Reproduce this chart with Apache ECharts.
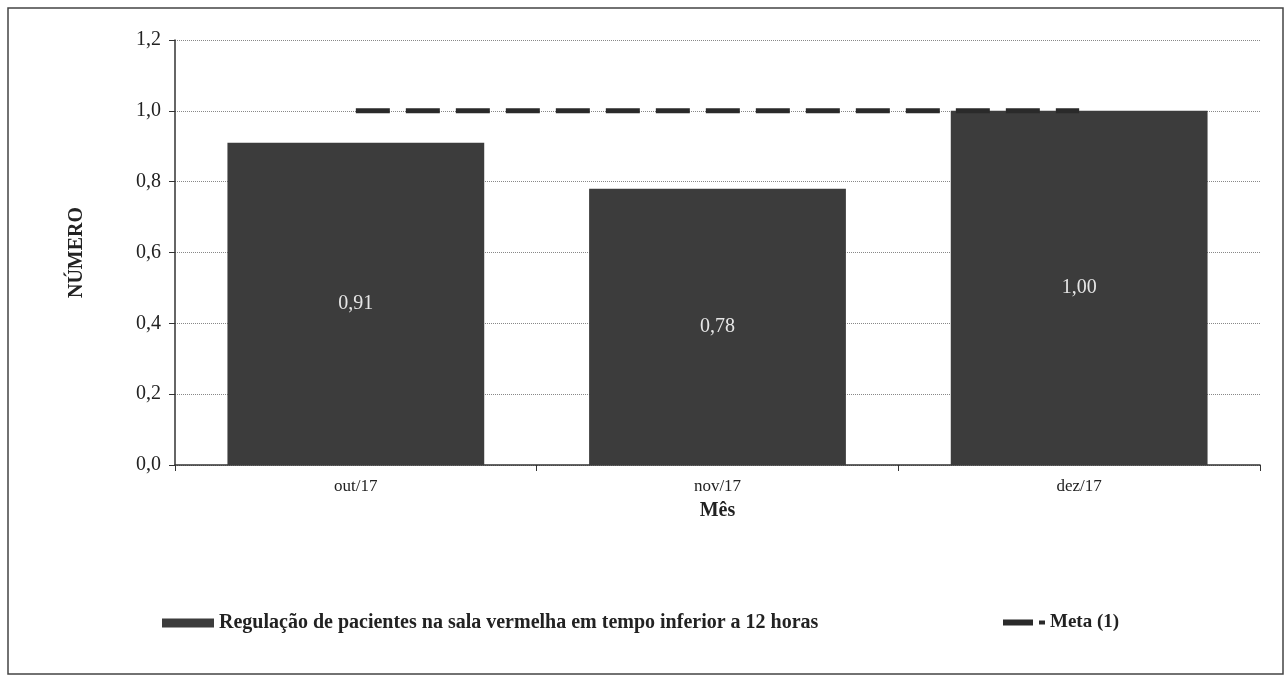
<!DOCTYPE html>
<html>
<head>
<meta charset="utf-8">
<script src="https://cdn.jsdelivr.net/npm/echarts@6/dist/echarts.min.js"></script>
<style>
html,body{margin:0;padding:0;background:#fff;}
#chart{width:1286px;height:681px;}
</style>
</head>
<body>
<div id="chart"></div>
<script>
const categories = ['out/17', 'nov/17', 'dez/17'];
const regulacao = [0.91, 0.78, 1.00];
const meta = [1, 1, 1];
const yTicks = [0, 0.2, 0.4, 0.6, 0.8, 1.0, 1.2];

const fmt = v => v.toFixed(2).replace('.', ',');
const chart = echarts.init(document.getElementById('chart'));
const serif = '"Liberation Serif", "DejaVu Serif", serif';
const legendText = { fontFamily: serif, fontSize: 20, fontWeight: 'bold', color: '#222' };
const barName = 'Regulação de pacientes na sala vermelha em tempo inferior a 12 horas';

chart.setOption({
  backgroundColor: '#fff',
  animation: false,
  textStyle: { fontFamily: serif },
  graphic: [{
    type: 'rect', shape: { x: 8, y: 8, width: 1275, height: 666 },
    style: { fill: 'none', stroke: '#444', lineWidth: 1.5 }
  }],
  grid: { left: 175, right: 26, top: 40, bottom: 216, containLabel: false },
  legend: [
    {
      top: 608, left: 157, itemWidth: 52, itemHeight: 9, itemGap: 10,
      textStyle: legendText,
      data: [{ name: barName, icon: 'rect' }]
    },
    {
      top: 608, left: 998, itemWidth: 42, itemHeight: 6, itemGap: 6,
      textStyle: { fontFamily: serif, fontSize: 19, fontWeight: 'bold', color: '#222' },
      data: [{ name: 'Meta (1)', icon: 'path://M0,0H30V6H0Z M36,1H42V5H36Z',
               itemStyle: { color: '#2a2a2a' } }]
    }
  ],
  xAxis: {
    type: 'category', data: categories,
    name: 'Mês', nameLocation: 'middle', nameGap: 36,
    nameTextStyle: { fontFamily: serif, fontSize: 20, fontWeight: 'bold', color: '#222' },
    axisLine: { lineStyle: { color: '#333', width: 1.5 } },
    axisTick: { show: true, length: 6, lineStyle: { color: '#333' } },
    axisLabel: { fontFamily: serif, fontSize: 17, color: '#222', margin: 13 }
  },
  yAxis: {
    type: 'value', min: 0, max: 1.2, interval: 0.2,
    name: 'NÚMERO', nameLocation: 'middle', nameGap: 88, nameRotate: 90,
    nameTextStyle: { fontFamily: serif, fontSize: 20, fontWeight: 'bold', color: '#222' },
    axisLine: { show: true, lineStyle: { color: '#333', width: 1.5 } },
    axisTick: { show: true, length: 6, lineStyle: { color: '#333' } },
    axisLabel: { fontFamily: serif, fontSize: 20, color: '#222', margin: 14,
      formatter: v => { const t = yTicks.find(x => Math.abs(x - v) < 1e-9); return (t !== undefined ? t : v).toFixed(1).replace('.', ','); } },
    splitLine: { show: true, lineStyle: { color: '#888', type: 'dotted', width: 1 } }
  },
  series: [
    {
      name: barName,
      type: 'bar', data: regulacao, barWidth: '71%',
      itemStyle: { color: '#3c3c3c' },
      label: { show: true, position: 'inside', formatter: p => fmt(p.value),
        fontFamily: serif, fontSize: 20, color: '#e6e6e6' }
    },
    {
      name: 'Meta (1)', type: 'line', data: meta, symbol: 'none',
      lineStyle: { color: '#2a2a2a', width: 5, type: [34, 16] },
      itemStyle: { color: '#2a2a2a' },
      z: 3
    }
  ]
});
</script>
</body>
</html>
